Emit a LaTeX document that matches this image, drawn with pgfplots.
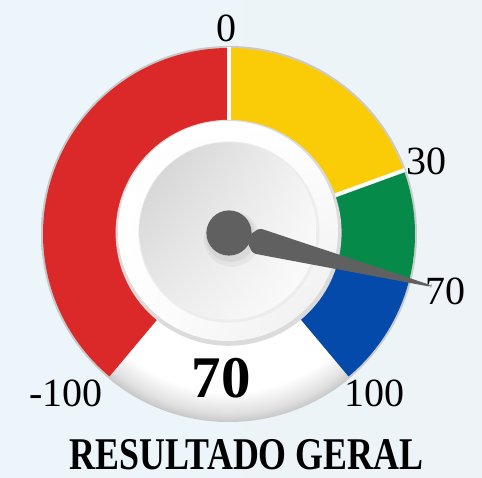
\documentclass[border=0pt]{standalone}
\usepackage{pgfplots}
\pgfplotsset{compat=1.18}
\usetikzlibrary{shadings}
\usepackage{fontspec}
\setmainfont{Liberation Serif}
\definecolor{bg}{RGB}{237,243,247}
\definecolor{bgl}{RGB}{236,246,250}
\definecolor{gred}{RGB}{218,41,40}
\definecolor{gyellow}{RGB}{250,204,8}
\definecolor{ggreen}{RGB}{5,138,74}
\definecolor{gblue}{RGB}{3,74,170}
\definecolor{needle}{RGB}{96,96,96}
\pgfdeclareradialshading{ringshadow}{\pgfpoint{0bp}{0bp}}{color(0bp)=(white); color(21bp)=(white); color(23.8bp)=(white!88!black); color(25bp)=(white!78!black); color(50bp)=(white!78!black)}
% gauge scale: value -> angle (deg)
\def\Rout{93pt}
\def\Rin{50pt}
\newcommand{\seg}[3]{\fill[#1] (#2:\Rout) arc[start angle=#2,end angle=#3,radius=\Rout] -- (#3:\Rin) arc[start angle=#3,end angle=#2,radius=\Rin] -- cycle;}
\begin{document}
\begin{tikzpicture}
\begin{axis}[x=0.5pt,y=0.5pt,xmin=0,xmax=482,ymin=0,ymax=477,hide axis,clip=false,disabledatascaling]
\shade[left color=bgl,right color=bg] (axis cs:0,0) rectangle (axis cs:482,477);
\begin{scope}[shift={(axis cs:229,243)}]
  % white base of the ring with shadow
  \shade[shading=ringshadow] (0pt,0pt) circle[radius=94pt];
  % segments: -100 -> 230 deg, 0 -> 90, 30 -> 20, 70 -> -14.5, 100 -> -50
  \seg{gred}{90}{230}
  \seg{gyellow}{20}{90}
  \seg{ggreen}{-14.5}{20}
  \seg{gblue}{-50}{-14.5}
  \draw[white,line width=2.3pt] (90:\Rin) -- (90:93.5pt);
  \draw[white,line width=2pt] (20:\Rin) -- (20:93.5pt);
  % bezel
  \fill[black!14] (-0.2pt,0.6pt) circle[radius=56.5pt];
  \shade[upper left=white, lower right=black!7, upper right=white, lower left=white] (-0.5pt,1.5pt) circle[radius=55pt];
  \fill[black!7] (0pt,1pt) circle[radius=45.3pt];
  \shade[upper left=black!19, lower right=white, upper right=black!5, lower left=black!8] (-0.5pt,1.5pt) circle[radius=44.3pt];
  % hub shadow
  \fill[black,opacity=0.04] (1.5pt,-2.5pt) circle[radius=14pt];
  \fill[black,opacity=0.05] (1pt,-1.5pt) circle[radius=12.5pt];
  % needle (value 70 -> -14.5 deg)
  \begin{scope}[rotate=-14.5]
    \fill[needle,rounded corners=1.5pt] (10pt,2pt) -- (14pt,6.6pt) -- (104.5pt,0.5pt) -- (104.5pt,-0.3pt) -- (14pt,-6.4pt) -- (10pt,-2pt) -- cycle;
  \end{scope}
  \fill[needle] (0pt,0.5pt) circle[radius=11.3pt];
\end{scope}
\begin{scope}[every node/.style={inner sep=0pt,anchor=center}]
\node at (axis cs:226,448.5) {\fontsize{20pt}{24pt}\selectfont 0};
\node at (axis cs:426.5,316) {\fontsize{20pt}{24pt}\selectfont 30};
\node at (axis cs:445,186) {\fontsize{20pt}{24pt}\selectfont 70};
\node at (axis cs:66,84) {\fontsize{20pt}{24pt}\selectfont -100};
\node at (axis cs:374,84) {\fontsize{20pt}{24pt}\selectfont 100};
\node at (axis cs:221,99) {\fontsize{29.5pt}{34pt}\selectfont\bfseries 70};
\node[xscale=0.79] at (axis cs:246.5,22) {\fontsize{22.7pt}{27pt}\selectfont\bfseries RESULTADO GERAL};
\end{scope}
\end{axis}
\end{tikzpicture}
\end{document}
